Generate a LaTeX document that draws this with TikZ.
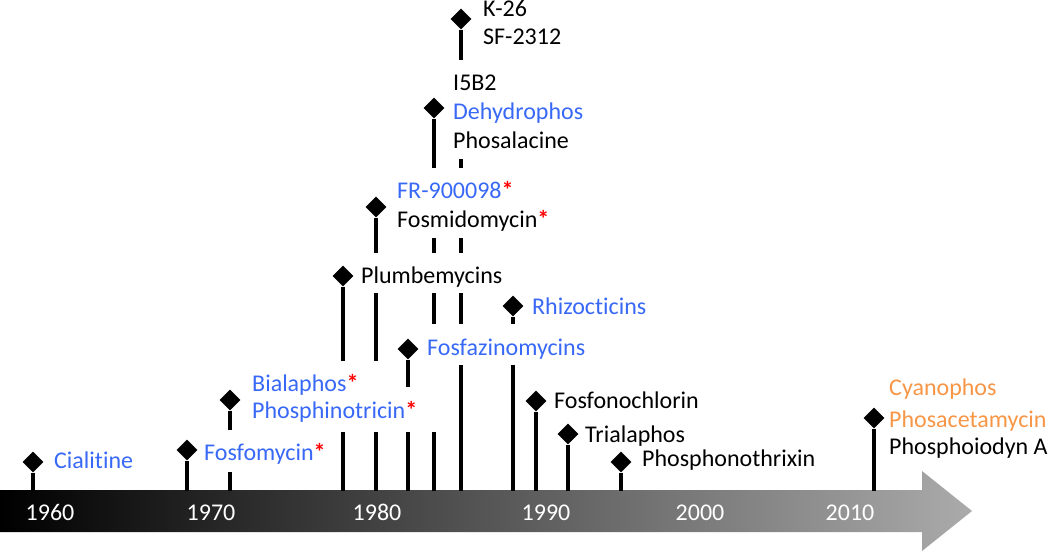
\documentclass[tikz,border=0pt]{standalone}
\usepackage{fontspec}
\setmainfont{Carlito}[Ligatures=NoCommon]
\usetikzlibrary{shapes.geometric}
\definecolor{cblue}{RGB}{56,104,246}
\definecolor{corange}{RGB}{247,150,70}
\newcommand{\rs}{\textcolor{red}{\textbf{*}}}
\tikzset{dm/.style={diamond,fill=black,inner sep=0pt,minimum width=21pt,minimum height=21pt},
 leg/.style={line width=4pt},
 lb/.style={anchor=base west,inner sep=0pt,font=\fontsize{24pt}{28pt}\selectfont},
 bl/.style={lb,text=cblue},og/.style={lb,text=corange},
 yr/.style={anchor=base,inner sep=0pt,text=white,font=\fontsize{24pt}{28pt}\selectfont}}
\begin{document}
\begin{tikzpicture}[x=1pt,y=-1pt]
\useasboundingbox (0,0) rectangle (1050,551);
% time axis
\shade[left color=black,right color=black!33] (0,490) -- (922,490) -- (922,471) -- (972,511)
 -- (922,551) -- (922,532) -- (0,532) -- cycle;
\node[yr](y60) at (50,520){1960};\node[yr](y70) at (211,520){1970};
\node[yr](y80) at (377,520){1980};\node[yr](y90) at (546,520){1990};
\node[yr](y00) at (700,520){2000};\node[yr](y10) at (850,520){2010};
% markers
\node[dm](dCia) at (33,462){};\node[dm](dFfm) at (187,450){};\node[dm](dBia) at (230,400){};
\node[dm](dPlb) at (343,276){};\node[dm](dFR) at (376,207){};\node[dm](dFsz) at (408,349){};
\node[dm](dDhp) at (434,108){};\node[dm](dK26) at (461,19){};\node[dm](dRhz) at (513,306){};
\node[dm](dFcl) at (536,401){};\node[dm](dTri) at (568,434){};\node[dm](dPtx) at (621,462){};
\node[dm](dCya) at (874,418){};
% stems
\draw[leg](dCia)--(33,491);
\draw[leg](dFfm)--(187,491);
\draw[leg](dBia)--(230,430) (230,472)--(230,491);
\draw[leg](dPlb)--(343,361) (343,432)--(343,491);
\draw[leg](dFR)--(376,253) (376,293)--(376,361) (376,432)--(376,491);
\draw[leg](dFsz)--(408,387) (408,432)--(408,491);
\draw[leg](dDhp)--(434,168) (434,238)--(434,253) (434,293)--(434,324) (434,432)--(434,491);
\draw[leg](dK26)--(461,60) (461,159)--(461,168) (461,238)--(461,253) (461,293)--(461,324) (461,365)--(461,491);
\draw[leg](dRhz)--(513,324) (513,365)--(513,491);
\draw[leg](dFcl)--(536,491);
\draw[leg](dTri)--(568,491);
\draw[leg](dPtx)--(621,491);
\draw[leg](dCya)--(874,491);
% labels
\node[bl](tCia) at (54,468){Cialitine};
\node[bl](tFfm) at (204,460){Fosfomycin\rs};
\node[bl](tBia) at (252,391){Bialaphos\rs};\node[bl](tPpt) at (252,418){Phosphinotricin\rs};
\node[lb](tPlb) at (361,283){Plumbemycins};
\node[bl](tFR) at (397,198){FR-900098\rs};\node[lb](tFsm) at (397,227){Fosmidomycin\rs};
\node[lb](tI5) at (453,90){I5B2};\node[bl](tDhp) at (453,119){Dehydrophos};
\node[lb](tPsl) at (453,148){Phosalacine};
\node[lb](tK26) at (483,17){K-26};\node[lb](tSF) at (483,45){SF-2312};
\node[bl](tFsz) at (427,355){Fosfazinomycins};
\node[bl](tRhz) at (532,314){Rhizocticins};
\node[lb](tFcl) at (554,408){Fosfonochlorin};
\node[lb](tTri) at (585,442){Trialaphos};
\node[lb](tPtx) at (642,466){Phosphonothrixin};
\node[og](tCya) at (889,395){Cyanophos};\node[og](tPac) at (889,427){Phosacetamycin};
\node[lb](tPio) at (889,454){Phosphoiodyn A};
\end{tikzpicture}
\end{document}
